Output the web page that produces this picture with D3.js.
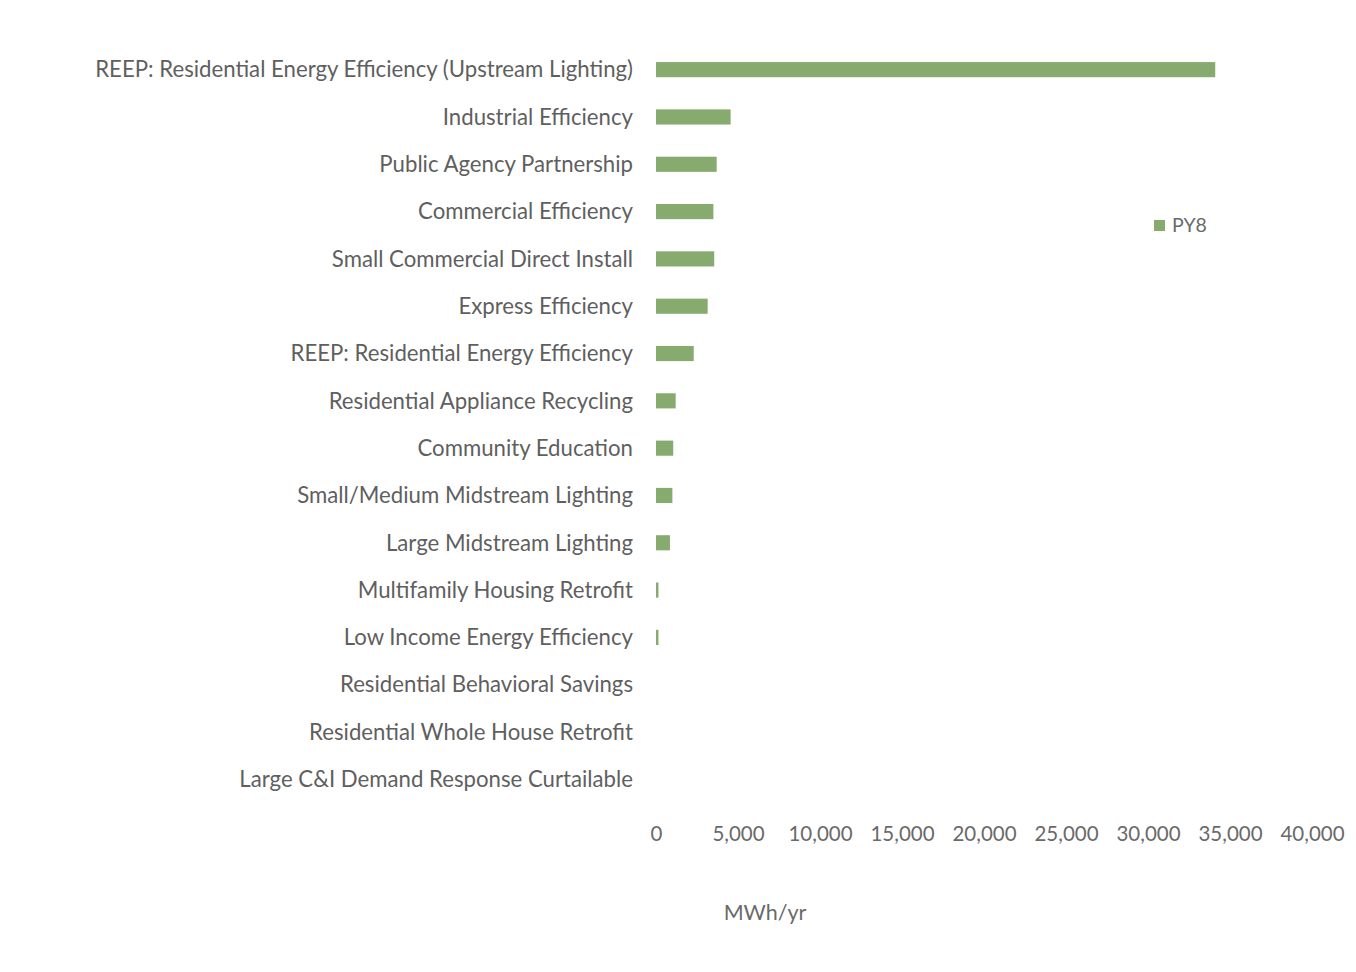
<!DOCTYPE html>
<html><head><meta charset="utf-8">
<script src="https://cdn.jsdelivr.net/npm/d3@7"></script>
<style>body{margin:0;background:#fff}svg{display:block}</style>
</head><body>
<svg id="c" width="1356" height="972"></svg>
<script>
const categories = [
  "REEP: Residential Energy Efficiency (Upstream Lighting)",
  "Industrial Efficiency",
  "Public Agency Partnership",
  "Commercial Efficiency",
  "Small Commercial Direct Install",
  "Express Efficiency",
  "REEP: Residential Energy Efficiency",
  "Residential Appliance Recycling",
  "Community Education",
  "Small/Medium Midstream Lighting",
  "Large Midstream Lighting",
  "Multifamily Housing Retrofit",
  "Low Income Energy Efficiency",
  "Residential Behavioral Savings",
  "Residential Whole House Retrofit",
  "Large C&I Demand Response Curtailable"
];
const py8 = [34100, 4550, 3700, 3500, 3550, 3150, 2300, 1200, 1050, 1000, 850, 150, 150, 0, 0, 0];
const xTicks = [0, 5000, 10000, 15000, 20000, 25000, 30000, 35000, 40000];
const seriesName = "PY8";
const axisTitle = "MWh/yr";

const svg = d3.select("#c");
const x = d3.scaleLinear().domain([0, 40000]).range([656, 1312]);
const y = d3.scaleBand().domain(categories).range([46, 803]).paddingInner(0.68).paddingOuter(0.34);

svg.append("g").selectAll("rect").data(categories).join("rect")
  .attr("x", x(0)).attr("y", d => y(d))
  .attr("width", (d, i) => x(py8[i]) - x(0))
  .attr("height", y.bandwidth())
  .attr("fill", "#87aa6e");

svg.append("g").selectAll("text").data(categories).join("text")
  .attr("x", 633).attr("y", d => y(d) + y.bandwidth() / 2)
  .attr("dy", "0.35em").attr("text-anchor", "end")
  .attr("font-family", "Lato, sans-serif").attr("font-size", 22.2).attr("fill", "#5f5f5f")
  .text(d => d);

const ax = svg.append("g").attr("transform", "translate(0,834)")
  .call(d3.axisBottom(x).tickValues(xTicks).tickFormat(d3.format(",")).tickSize(0).tickPadding(0));
ax.select(".domain").remove();
ax.selectAll("text").attr("dy", "0.35em").attr("font-family", "Lato, sans-serif")
  .attr("font-size", 20.5).attr("fill", "#6a6a6a");

svg.append("text").attr("x", 765).attr("y", 912).attr("dy", "0.35em").attr("text-anchor", "middle")
  .attr("font-family", "Lato, sans-serif").attr("font-size", 21.5).attr("fill", "#6a6a6a").text(axisTitle);

const lg = svg.append("g").attr("transform", "translate(1154,220)");
lg.append("rect").attr("width", 11).attr("height", 11).attr("fill", "#87aa6e");
lg.append("text").attr("x", 18).attr("y", 5.5).attr("dy", "0.35em")
  .attr("font-family", "Lato, sans-serif").attr("font-size", 19.5).attr("fill", "#6a6a6a").text(seriesName);
</script>
</body></html>
